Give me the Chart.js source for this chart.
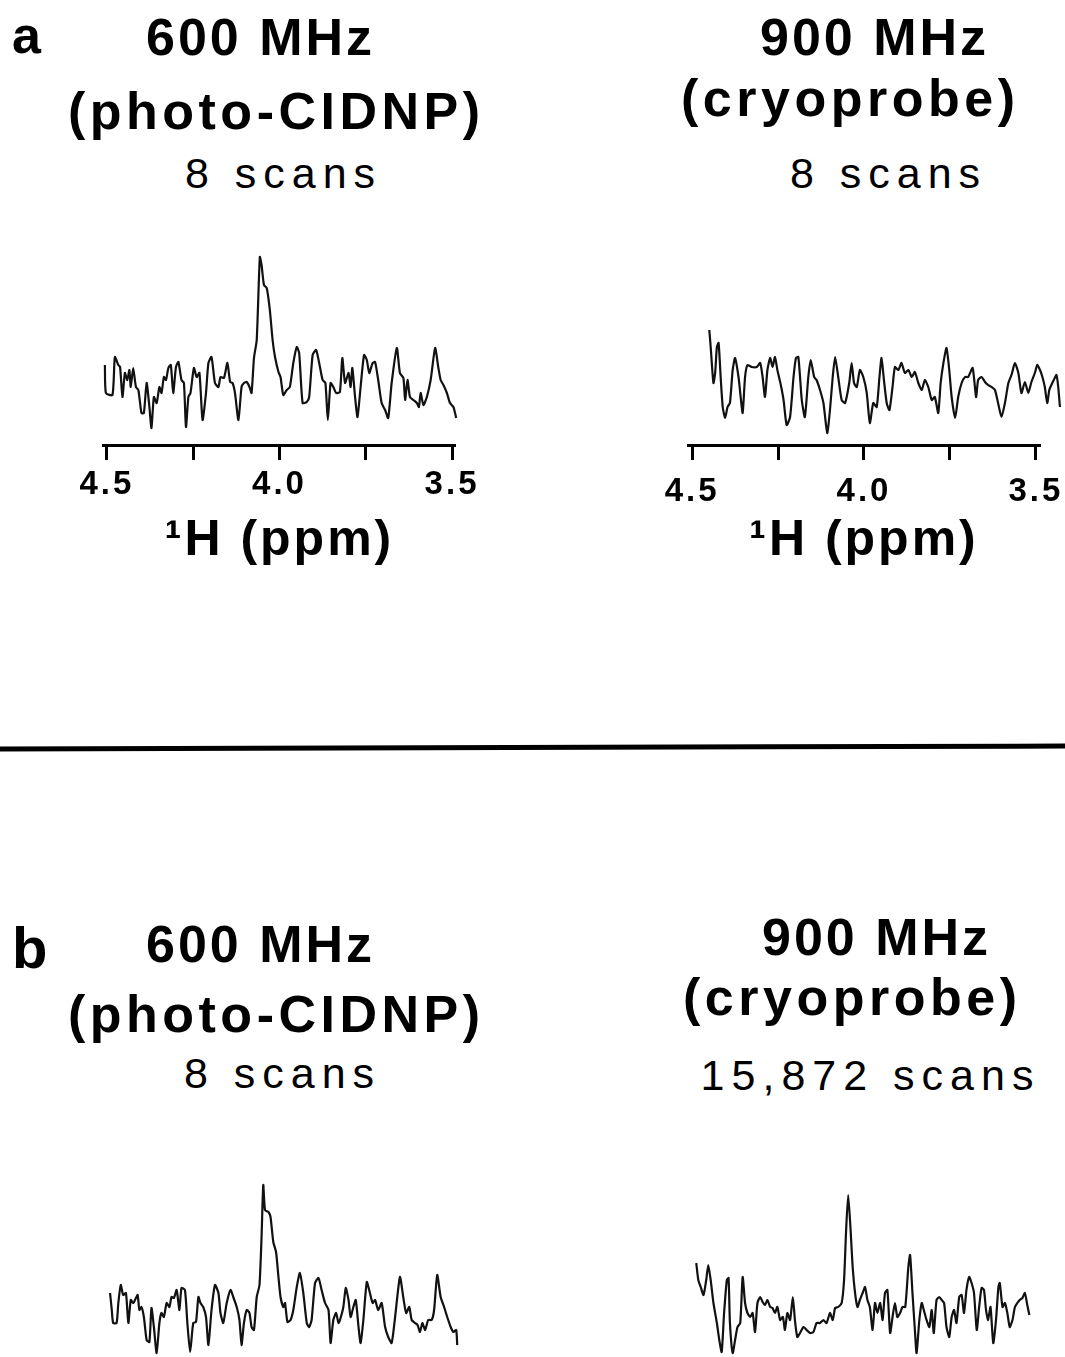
<!DOCTYPE html>
<html>
<head>
<meta charset="utf-8">
<script src="https://cdn.jsdelivr.net/npm/chart.js@4/dist/chart.umd.min.js"></script>
<style>
  html, body { margin: 0; padding: 0; background: #fff; }
  html { overflow: hidden; }
  body { width: 1065px; height: 1420px; position: relative; font-family: "Liberation Sans", Arial, sans-serif; color: #000; }
  .t { position: absolute; white-space: nowrap; line-height: 1; transform: translateX(-50%); }
  .b { font-weight: bold; font-size: 52px; letter-spacing: 3px; padding-left: 3px; }
  .p { font-weight: bold; font-size: 52px; letter-spacing: 4.5px; padding-left: 4.5px; }
  .s { font-weight: normal; font-size: 43px; letter-spacing: 7px; padding-left: 7px; }
  .panel { position: absolute; left: 12px; font-weight: bold; line-height: 1; }
  .box { position: absolute; }
  #rule { position: absolute; left: -5px; top: 745px; width: 1080px; height: 5px; background: #000; transform: rotate(-0.16deg); }
</style>
</head>
<body>
<div class="panel" style="top:9px; font-size:52px;">a</div>
<div class="t b" style="left:259px; top:11px;">600 MHz</div>
<div class="t p" style="left:274px; top:85px;">(photo-CIDNP)</div>
<div class="t s" style="left:280px; top:152px;">8 scans</div>
<div class="t b" style="left:873px; top:11px;">900 MHz</div>
<div class="t p" style="left:848px; top:72px;">(cryoprobe)</div>
<div class="t s" style="left:885px; top:152px;">8 scans</div>

<div id="rule"></div>

<div class="panel" style="top:919px; font-size:58px;">b</div>
<div class="t b" style="left:259px; top:918px;">600 MHz</div>
<div class="t p" style="left:274px; top:988px;">(photo-CIDNP)</div>
<div class="t s" style="left:279px; top:1052px;">8 scans</div>
<div class="t b" style="left:875px; top:911px;">900 MHz</div>
<div class="t p" style="left:850px; top:971px;">(cryoprobe)</div>
<div class="t s" style="left:867px; top:1054px;">15,872 scans</div>

<div class="box" style="left:40px; top:200px; width:480px; height:371px;"><canvas id="specA600"></canvas></div>
<div class="box" style="left:640px; top:200px; width:460px; height:371px;"><canvas id="specA900"></canvas></div>
<div class="box" style="left:40px; top:1120px; width:480px; height:250px;"><canvas id="specB600"></canvas></div>
<div class="box" style="left:640px; top:1120px; width:460px; height:250px;"><canvas id="specB900"></canvas></div>

<script>
// ppm axis
const tickValues = [4.5, 4.25, 4.0, 3.75, 3.5];
const tickLabels = ['4.5', '', '4.0', '', '3.5'];
const axisTitle = '\u00B9H (ppm)';

// a) 600 MHz photo-CIDNP, 8 scans
const ppmA600 = [
  4.506, 4.503, 4.484, 4.477, 4.467, 4.462, 4.455, 4.448, 4.441, 4.435,
  4.431, 4.424, 4.416, 4.409, 4.400, 4.393, 4.385, 4.377, 4.371, 4.364,
  4.356, 4.348, 4.342, 4.335, 4.329, 4.322, 4.315, 4.308, 4.300, 4.293,
  4.284, 4.277, 4.271, 4.264, 4.258, 4.248, 4.240, 4.232, 4.223, 4.213,
  4.206, 4.197, 4.187, 4.177, 4.171, 4.161, 4.151, 4.143, 4.136, 4.129,
  4.119, 4.110, 4.103, 4.095, 4.087, 4.081, 4.074, 4.066, 4.057, 4.052,
  4.045, 4.037, 4.028, 4.020, 4.013, 4.003, 3.997, 3.989, 3.979, 3.970,
  3.960, 3.950, 3.943, 3.933, 3.921, 3.914, 3.904, 3.894, 3.885, 3.875,
  3.867, 3.860, 3.852, 3.844, 3.836, 3.825, 3.818, 3.810, 3.800, 3.794,
  3.789, 3.781, 3.774, 3.765, 3.755, 3.747, 3.740, 3.730, 3.723, 3.714,
  3.704, 3.694, 3.685, 3.675, 3.660, 3.651, 3.641, 3.636, 3.629, 3.622,
  3.612, 3.602, 3.596, 3.591, 3.583, 3.573, 3.562, 3.549, 3.540, 3.533,
  3.525, 3.515, 3.506, 3.496, 3.488,
];
const intA600 = [
  75, 47, 45, 83, 75, 73, 43, 67, 60, 70,
  53, 72, 53, 50, 27, 27, 57, 33, 12, 43,
  37, 53, 47, 63, 60, 72, 75, 47, 73, 78,
  60, 57, 13, 43, 47, 72, 63, 67, 20, 47,
  77, 83, 57, 53, 63, 62, 77, 58, 57, 47,
  20, 53, 57, 58, 53, 47, 82, 100, 183, 175,
  155, 152, 130, 100, 83, 68, 63, 45, 50, 53,
  77, 93, 87, 37, 38, 43, 85, 90, 77, 60,
  57, 20, 57, 53, 47, 48, 82, 57, 67, 53,
  72, 43, 23, 53, 85, 80, 67, 77, 78, 60,
  37, 30, 22, 57, 92, 67, 62, 40, 60, 43,
  40, 37, 33, 47, 35, 43, 60, 92, 73, 60,
  55, 47, 37, 33, 22,
];

// a) 900 MHz cryoprobe, 8 scans
const ppmA900 = [
  4.450, 4.446, 4.438, 4.433, 4.428, 4.423, 4.417, 4.411, 4.404, 4.397,
  4.390, 4.382, 4.375, 4.365, 4.360, 4.353, 4.346, 4.339, 4.327, 4.312,
  4.302, 4.295, 4.288, 4.281, 4.273, 4.266, 4.259, 4.252, 4.242, 4.234,
  4.225, 4.215, 4.205, 4.198, 4.191, 4.181, 4.172, 4.162, 4.155, 4.145,
  4.138, 4.128, 4.118, 4.107, 4.099, 4.091, 4.084, 4.075, 4.065, 4.055,
  4.043, 4.036, 4.029, 4.021, 4.012, 4.002, 3.992, 3.983, 3.973, 3.963,
  3.955, 3.949, 3.942, 3.934, 3.926, 3.917, 3.910, 3.900, 3.891, 3.881,
  3.871, 3.861, 3.852, 3.842, 3.832, 3.823, 3.813, 3.803, 3.794, 3.784,
  3.777, 3.769, 3.760, 3.752, 3.745, 3.735, 3.726, 3.716, 3.706, 3.697,
  3.684, 3.674, 3.668, 3.658, 3.648, 3.639, 3.629, 3.619, 3.610, 3.600,
  3.590, 3.580, 3.571, 3.561, 3.551, 3.542, 3.532, 3.522, 3.513, 3.503,
  3.496, 3.488, 3.481, 3.474, 3.467, 3.461, 3.455, 3.448, 3.440, 3.435,
  3.430,
];
const intA900 = [
  120, 103, 67, 77, 103, 107, 73, 43, 32, 43,
  47, 80, 92, 73, 57, 37, 73, 85, 83, 83,
  87, 73, 53, 80, 92, 83, 93, 80, 65, 50,
  25, 33, 73, 92, 93, 50, 33, 73, 90, 73,
  70, 60, 47, 17, 40, 73, 93, 73, 50, 47,
  67, 87, 67, 63, 80, 73, 57, 27, 47, 43,
  73, 92, 70, 47, 40, 63, 83, 80, 87, 77,
  80, 73, 78, 67, 60, 70, 63, 50, 53, 37,
  67, 87, 102, 80, 53, 32, 53, 67, 73, 73,
  82, 53, 70, 73, 68, 65, 63, 60, 47, 33,
  47, 67, 75, 87, 77, 57, 68, 57, 68, 77,
  85, 80, 73, 63, 47, 60, 65, 70, 75, 63,
  43,
];

// b) 600 MHz photo-CIDNP, 8 scans
const ppmB600 = [
  4.491, 4.486, 4.482, 4.472, 4.467, 4.460, 4.453, 4.445, 4.438, 4.431,
  4.424, 4.416, 4.411, 4.406, 4.400, 4.393, 4.385, 4.377, 4.371, 4.364,
  4.356, 4.348, 4.342, 4.335, 4.327, 4.319, 4.313, 4.306, 4.298, 4.290,
  4.284, 4.274, 4.267, 4.259, 4.250, 4.242, 4.235, 4.229, 4.221, 4.213,
  4.206, 4.197, 4.187, 4.177, 4.171, 4.163, 4.153, 4.142, 4.134, 4.124,
  4.116, 4.110, 4.103, 4.095, 4.087, 4.081, 4.074, 4.066, 4.058, 4.052,
  4.047, 4.042, 4.032, 4.026, 4.018, 4.010, 4.003, 3.997, 3.989, 3.984,
  3.977, 3.968, 3.960, 3.950, 3.941, 3.931, 3.921, 3.914, 3.907, 3.897,
  3.887, 3.878, 3.868, 3.858, 3.852, 3.844, 3.836, 3.829, 3.823, 3.815,
  3.808, 3.800, 3.794, 3.786, 3.779, 3.771, 3.765, 3.757, 3.747, 3.738,
  3.730, 3.723, 3.714, 3.704, 3.694, 3.685, 3.675, 3.665, 3.651, 3.641,
  3.633, 3.624, 3.617, 3.607, 3.600, 3.593, 3.586, 3.578, 3.569, 3.559,
  3.552, 3.543, 3.533, 3.523, 3.514, 3.504, 3.496, 3.488, 3.485,
];
const intB600 = [
  77, 60, 47, 47, 67, 85, 75, 77, 47, 70,
  67, 72, 75, 60, 63, 53, 30, 28, 62, 43,
  17, 47, 57, 53, 67, 63, 73, 72, 80, 60,
  82, 80, 47, 18, 47, 48, 73, 67, 63, 53,
  25, 60, 85, 77, 57, 47, 67, 80, 73, 63,
  50, 25, 47, 60, 57, 43, 40, 73, 85, 133,
  185, 160, 158, 153, 128, 118, 93, 73, 63, 67,
  48, 50, 60, 83, 97, 77, 47, 43, 50, 87,
  92, 80, 67, 60, 27, 50, 57, 47, 52, 63,
  82, 70, 53, 63, 70, 43, 27, 50, 88, 77,
  67, 70, 60, 67, 43, 33, 27, 53, 93, 72,
  57, 63, 50, 47, 45, 38, 47, 40, 50, 50,
  60, 95, 73, 63, 53, 43, 38, 40, 25,
];

// b) 900 MHz cryoprobe, 15,872 scans
const ppmB900 = [
  4.488, 4.482, 4.475, 4.467, 4.459, 4.453, 4.446, 4.438, 4.428, 4.421,
  4.414, 4.407, 4.399, 4.394, 4.390, 4.382, 4.375, 4.368, 4.360, 4.353,
  4.346, 4.339, 4.331, 4.324, 4.317, 4.310, 4.302, 4.295, 4.288, 4.281,
  4.273, 4.266, 4.259, 4.252, 4.244, 4.236, 4.230, 4.223, 4.215, 4.207,
  4.201, 4.194, 4.186, 4.176, 4.167, 4.157, 4.147, 4.138, 4.128, 4.118,
  4.109, 4.099, 4.091, 4.084, 4.075, 4.065, 4.058, 4.052, 4.046, 4.039,
  4.033, 4.026, 4.019, 4.012, 4.004, 3.997, 3.990, 3.983, 3.975, 3.968,
  3.961, 3.953, 3.946, 3.939, 3.932, 3.924, 3.917, 3.910, 3.903, 3.895,
  3.888, 3.880, 3.871, 3.866, 3.859, 3.852, 3.847, 3.839, 3.832, 3.826,
  3.818, 3.810, 3.803, 3.797, 3.789, 3.781, 3.774, 3.767, 3.760, 3.752,
  3.745, 3.738, 3.731, 3.723, 3.716, 3.709, 3.702, 3.694, 3.687, 3.680,
  3.672, 3.665, 3.658, 3.651, 3.645, 3.639, 3.632, 3.624, 3.616, 3.609,
  3.605, 3.597, 3.590, 3.583, 3.576, 3.568, 3.561, 3.554, 3.547, 3.539,
  3.532, 3.525, 3.519,
];
const intB900 = [
  117, 100, 93, 85, 100, 115, 100, 77, 57, 40,
  28, 67, 100, 102, 57, 27, 40, 53, 57, 103,
  77, 67, 63, 67, 48, 77, 83, 78, 75, 80,
  73, 72, 67, 73, 60, 63, 50, 67, 60, 83,
  60, 43, 47, 53, 50, 47, 48, 57, 57, 60,
  57, 67, 60, 72, 73, 77, 100, 150, 185, 150,
  113, 87, 73, 80, 87, 93, 80, 73, 50, 77,
  67, 77, 60, 87, 90, 47, 63, 77, 63, 67,
  73, 73, 113, 125, 87, 50, 27, 60, 77, 70,
  60, 53, 70, 47, 80, 83, 80, 77, 53, 43,
  63, 70, 57, 83, 85, 67, 90, 103, 97, 87,
  50, 73, 92, 90, 70, 60, 73, 37, 60, 93,
  97, 73, 77, 67, 53, 60, 73, 77, 80, 82,
  87, 75, 65,
];

const fontFamily = '"Liberation Sans", Arial, sans-serif';

// canvas text has no letter-spacing option in Chart.js, set it on the context
const letterSpacingPlugin = {
  id: 'letterSpacing',
  beforeDraw: (chart) => {
    chart.ctx.letterSpacing = '3px';
  },
};

const makeSpectrum = (id, ppm, intensity, opts) => {
  const points = ppm.map((x, i) => ({ x, y: intensity[i] }));

  new Chart(id, {
    type: 'line',
    data: {
      datasets: [
        {
          data: points,
          borderColor: '#111',
          borderWidth: 2.2,
          pointRadius: 0,
          tension: 0.2,
          fill: false,
          clip: false,
        },
      ],
    },
    options: {
      responsive: true,
      maintainAspectRatio: false,
      animation: false,
      events: [],
      layout: { padding: opts.padding },
      plugins: { legend: { display: false }, tooltip: { enabled: false } },
      scales: {
        x: {
          type: 'linear',
          display: opts.showAxis,
          reverse: true,
          min: opts.xMin,
          max: opts.xMax,
          afterBuildTicks: (scale) => {
            scale.ticks = tickValues.map((value) => ({ value }));
          },
          // fixed axis band so the plot area lines up with the picture
          afterFit: (scale) => {
            scale.height = opts.showAxis ? opts.axisHeight : 0;
          },
          ticks: {
            autoSkip: false,
            maxRotation: 0,
            padding: opts.tickPad,
            color: '#000',
            font: { family: fontFamily, size: 33, weight: 'bold' },
            callback: (value) => tickLabels[tickValues.indexOf(value)],
          },
          grid: {
            drawOnChartArea: false,
            drawTicks: true,
            tickLength: 15,
            tickWidth: 3,
            tickColor: '#000',
          },
          border: { display: true, color: '#000', width: 3 },
          title: {
            display: true,
            text: axisTitle,
            color: '#000',
            padding: 0,
            font: { family: fontFamily, size: 50, weight: 'bold' },
          },
        },
        y: {
          display: false,
          min: opts.yMin,
          max: opts.yMax,
        },
      },
    },
    plugins: [letterSpacingPlugin],
  });
};

makeSpectrum('specA600', ppmA600, intA600, {
  showAxis: true, xMin: 3.49, xMax: 4.51, yMin: -5, yMax: 220,
  padding: { left: 63.5, right: 64.5, top: 20, bottom: 0 },
  axisHeight: 126, tickPad: 5,
});
makeSpectrum('specA900', ppmA900, intA900, {
  showAxis: true, xMin: 3.488, xMax: 4.512, yMin: 5, yMax: 230,
  padding: { left: 48, right: 60, top: 20, bottom: 0 },
  axisHeight: 126, tickPad: 12,
});
makeSpectrum('specB600', ppmB600, intB600, {
  showAxis: false, xMin: 3.49, xMax: 4.51, yMin: 0, yMax: 230,
  padding: { left: 63.5, right: 64.5, top: 20, bottom: 0 },
  axisHeight: 0, tickPad: 4,
});
makeSpectrum('specB900', ppmB900, intB900, {
  showAxis: false, xMin: 3.488, xMax: 4.512, yMin: 10, yMax: 240,
  padding: { left: 48, right: 60, top: 20, bottom: 0 },
  axisHeight: 0, tickPad: 4,
});
</script>
</body>
</html>
